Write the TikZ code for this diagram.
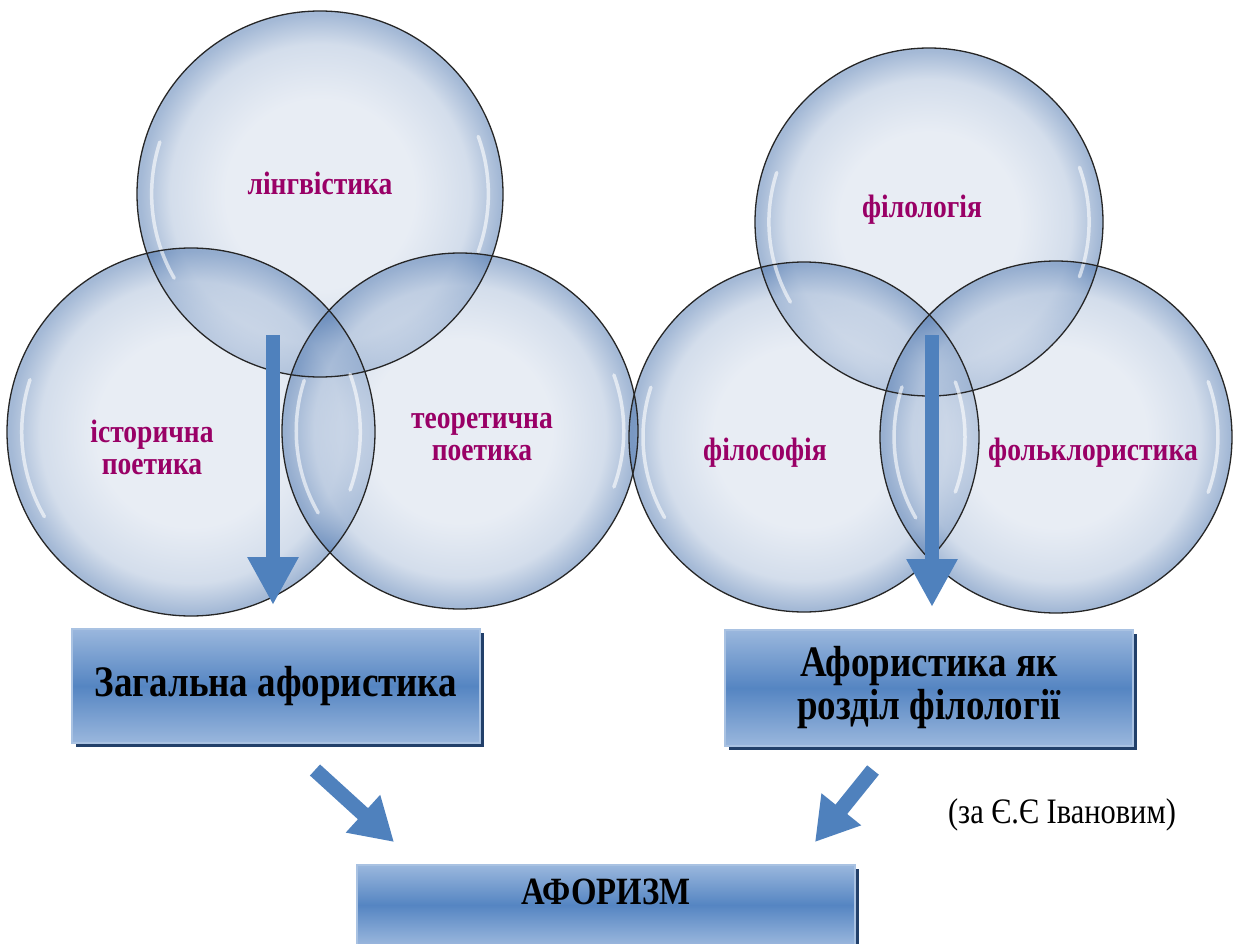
\documentclass[tikz,border=0pt]{standalone}
\usepackage{fontspec}
\setmainfont{Liberation Serif}
\newfontfamily\tallserif{Liberation Serif}[FakeStretch=0.85]
\usetikzlibrary{arrows.meta,shadows}
\definecolor{bubC}{HTML}{D2DCEB}
\definecolor{bubM}{HTML}{A9BDD9}
\definecolor{bubE}{HTML}{4A74AE}
\definecolor{lblpurple}{HTML}{990066}
\definecolor{arrowblue}{HTML}{4F81BD}
\definecolor{boxlight}{HTML}{9AB7DD}
\definecolor{boxdark}{HTML}{5585C2}
\definecolor{boxedge}{HTML}{A9C2E2}
\definecolor{boxshadow}{HTML}{22406A}
\pgfdeclareradialshading{bubble}{\pgfpoint{0bp}{0bp}}{color(0bp)=(bubC); color(13bp)=(bubC); color(20.5bp)=(bubM); color(24.6bp)=(bubE); color(25bp)=(bubE); color(50bp)=(bubE)}
\tikzset{
  bubfill/.style={shading=bubble, fill opacity=0.5},
  bubline/.style={draw=black!85, line width=1.3pt},
  hilite/.style={draw=white, line width=3.5pt, line cap=round, opacity=0.6},
  lbl/.style={text=lblpurple, font=\tallserif\fontsize{32.4}{32}\selectfont\bfseries, align=center},
  bigarrow/.style={draw=arrowblue, line width=14pt, -{Triangle[width=48pt,length=48pt]}},
  diagarrow/.style={draw=arrowblue, line width=15pt, -{Triangle[width=48pt,length=42pt]}},
  boxnode/.style={draw=boxedge, line width=1.5pt, top color=boxlight, bottom color=boxlight, middle color=boxdark,
    drop shadow={shadow xshift=4pt, shadow yshift=-4pt, fill=boxshadow, opacity=1},
    font=\tallserif\fontsize{43.5}{43}\selectfont\bfseries, align=center, text=black}
}
\newcommand\mybub[4]{%
  \node[circle, minimum size=#4*2pt, inner sep=0pt] (#1) at (#2,#3) {};
  \path[bubfill] (#1.center) circle[radius=#4];}
\newcommand\mybubline[2]{%
  \draw[bubline] (#1.center) circle[radius=#2];
  \draw[hilite] (#1.center) ++(150:#2*0.92) arc[start angle=150, end angle=198, radius=#2*0.92];
  \draw[hilite] (#1.center) ++(-20:#2*0.92) arc[start angle=-20, end angle=20, radius=#2*0.92];}
\begin{document}
\begin{tikzpicture}[x=1pt,y=-1pt]
\useasboundingbox[fill=white] (0,0) rectangle (1234,944);
% left group
\mybub{ling}{320}{194}{183}
\mybub{hist}{191}{432}{184}
\mybub{theo}{460}{431}{178}
% right group
\mybub{phil}{929}{222}{174}
\mybub{philos}{804}{437}{175}
\mybub{folk}{1056}{437}{176}
\mybubline{ling}{183}
\mybubline{hist}{184}
\mybubline{theo}{178}
\mybubline{phil}{174}
\mybubline{philos}{175}
\mybubline{folk}{176}
% labels
\node[lbl] (tling) at (320,183) {лінгвістика};
\node[lbl] (thist) at (152,447) {історична\\поетика};
\node[lbl] (ttheo) at (482,437) {теоретична\\поетика};
\node[lbl] (tphil) at (922,210) {філологія};
\node[lbl] (tphilos) at (765,453) {філософія};
\node[lbl] (tfolk) at (1093,453) {фольклористика};
% boxes
\node[boxnode, minimum width=408pt, minimum height=114pt] (gen) at (276,686) {Загальна афористика};
\node[boxnode, minimum width=408pt, minimum height=116pt] (sec) at (929,688) {Афористика як\\розділ філології};
\node[boxnode, minimum width=498pt, minimum height=80pt, font=\tallserif\fontsize{38.6}{40}\selectfont\bfseries, text depth=27pt] (aph) at (606,905) {АФОРИЗМ};
% vertical arrows
\coordinate (la0) at (273,335);
\coordinate (la1) at (273,605);
\coordinate (ra0) at (932,335);
\coordinate (ra1) at (932,607);
\draw[bigarrow] (la0) -- (la1);
\draw[bigarrow] (ra0) -- (ra1);
% diagonal arrows
\coordinate (da0) at (315,770);
\coordinate (da1) at (394,842);
\coordinate (db0) at (873,770);
\coordinate (db1) at (815,842);
\draw[diagarrow] (da0) -- (da1);
\draw[diagarrow] (db0) -- (db1);
% note
\node[font=\tallserif\fontsize{35.8}{38}\selectfont] (note) at (1062,815) {(за Є.Є Івановим)};
\end{tikzpicture}
\end{document}
